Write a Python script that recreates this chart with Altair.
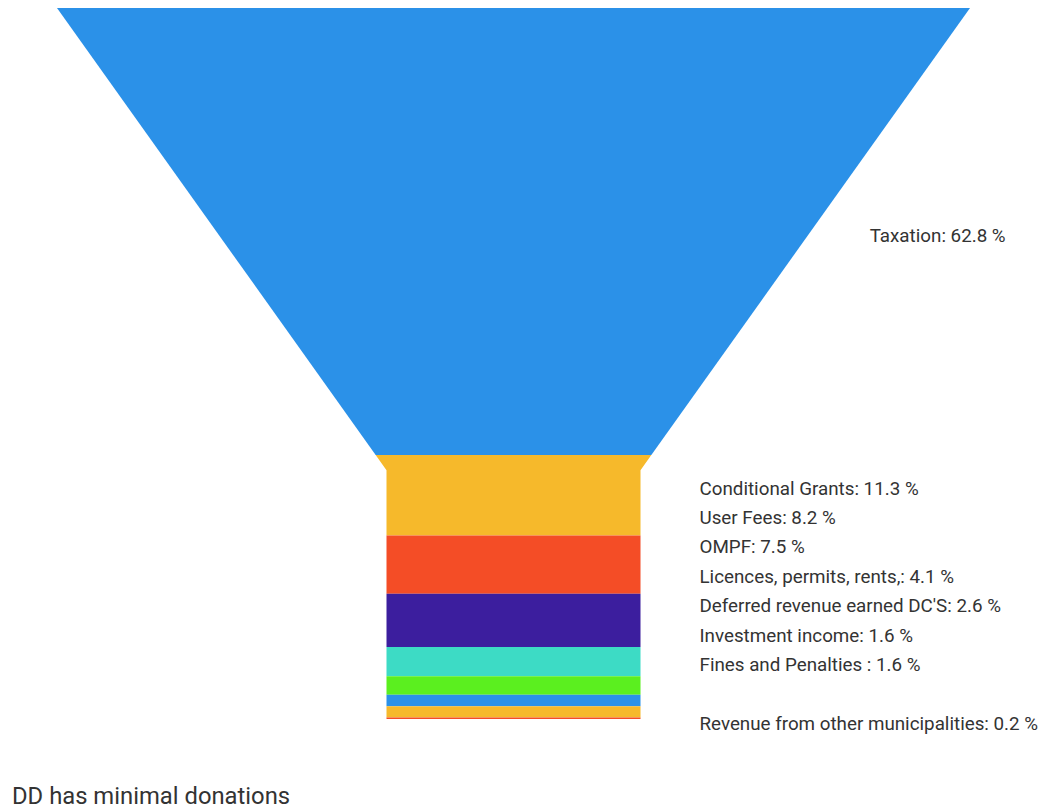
import altair as alt
import pandas as pd

# ---- data ----
names = [
    "Taxation",
    "Conditional Grants",
    "User Fees",
    "OMPF",
    "Licences, permits, rents,",
    "Deferred revenue earned DC'S",
    "Investment income",
    "Fines and Penalties ",
    "Revenue from other municipalities",
]
values = [62.8, 11.3, 8.2, 7.5, 4.1, 2.6, 1.6, 1.6, 0.2]
colors = ["#2B91E8", "#F6B92B", "#F44D26", "#3C1E9E", "#3DDBC5",
          "#5BEF1F", "#2B91E8", "#F6B92B", "#F44D26"]
# vertical slots of the data labels (in value units, after label de-overlapping)
label_y = [32.08, 67.54, 71.66, 75.80, 79.95, 84.09, 88.24, 92.38, 100.67]
subtitle = "DD has minimal donations"

# ---- funnel geometry ----
total = sum(values)
TOP_HALF = 50.0
NECK_HALF = 50.0 * 254 / 913
neck_y = total * (1 - 0.35)
LABEL_OFFSET = 59 / 913 * 100


def hw(y):
    if y < neck_y:
        return TOP_HALF - (TOP_HALF - NECK_HALF) * y / neck_y
    return NECK_HALF


rows = []
labels = []
cum = 0.0
for i, (n, v) in enumerate(zip(names, values)):
    top, bot = cum, cum + v
    ys = [top]
    if top < neck_y < bot:
        ys.append(neck_y)
    ys.append(bot)
    for y in ys:
        rows.append({"name": n, "y": y, "left": -hw(y), "right": hw(y)})
    center = (top + bot) / 2
    labels.append({
        "text": f"{n}: {v} %",
        "x": hw(center) + LABEL_OFFSET,
        "y": label_y[i],
    })
    cum = bot

area_df = pd.DataFrame(rows)
label_df = pd.DataFrame(labels)

xscale = alt.Scale(domain=[-50, 50], nice=False, zero=False)
yscale = alt.Scale(domain=[0, total], nice=False, zero=False, reverse=True)
cscale = alt.Scale(domain=names, range=colors)

funnel = alt.Chart(area_df).mark_area(orient="horizontal").encode(
    y=alt.Y("y:Q", scale=yscale, axis=None),
    x=alt.X("left:Q", scale=xscale, axis=None),
    x2="right:Q",
    color=alt.Color("name:N", scale=cscale, legend=None),
)

text = alt.Chart(label_df).mark_text(
    align="left", baseline="middle", font="Roboto", fontSize=18.8, color="#333333"
).encode(
    x=alt.X("x:Q", scale=xscale, axis=None),
    y=alt.Y("y:Q", scale=yscale, axis=None),
    text="text:N",
)

sub = alt.Chart(pd.DataFrame({"t": [subtitle]})).mark_text(
    align="left", baseline="middle", font="Roboto", fontSize=23.8, color="#333333"
).encode(
    x=alt.value(-45),
    y=alt.value(789),
    text="t:N",
)

chart = alt.layer(funnel, text, sub).properties(
    width=913,
    height=711,
    padding={"left": 57, "top": 8, "right": 72, "bottom": 93},
    autosize=alt.AutoSizeParams(type="none"),
    background="white",
).configure_view(stroke=None)

chart.save("out.html", embed_options={"renderer": "svg", "actions": False})
